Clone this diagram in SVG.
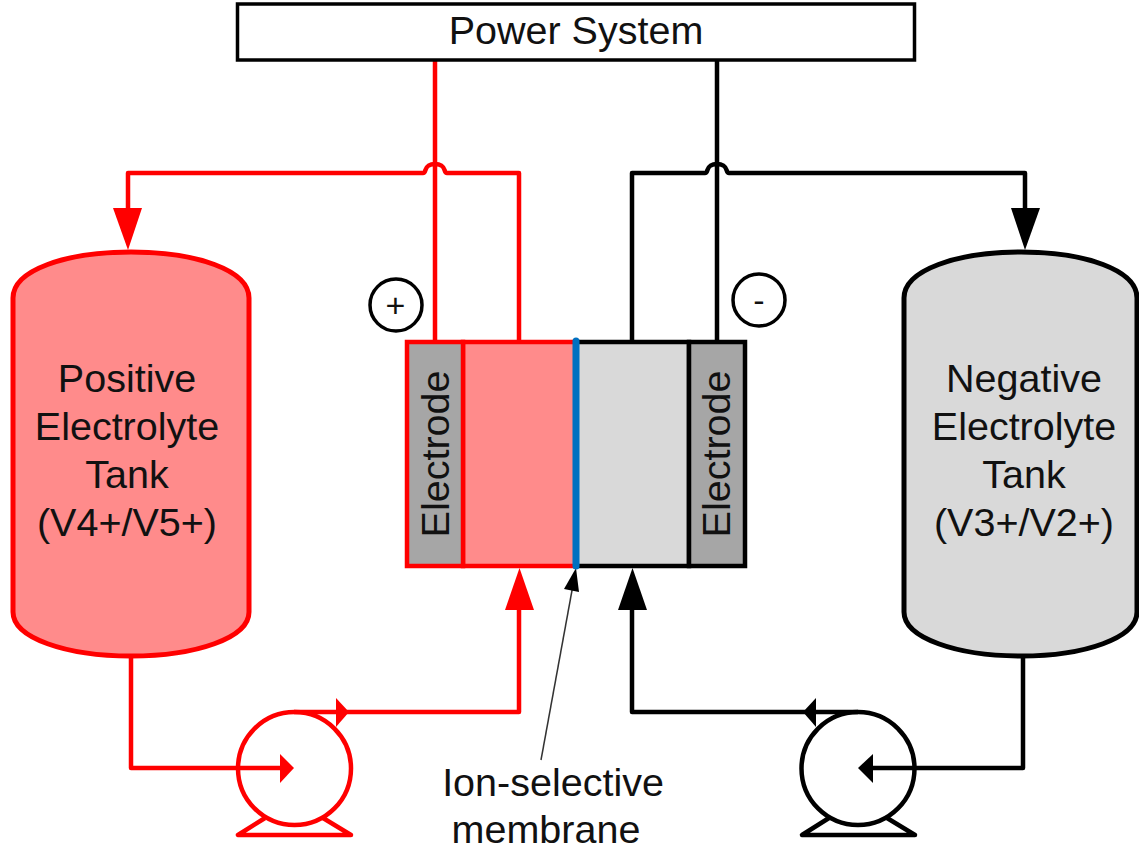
<svg xmlns="http://www.w3.org/2000/svg" width="1139" height="849" viewBox="0 0 1139 849">
<style>
text{font-family:"Liberation Sans",Arial,sans-serif;font-size:39.500px;fill:#111;text-anchor:middle}
.r{fill:none;stroke:#ff0000;stroke-width:4.500;stroke-linejoin:round}
.k{fill:none;stroke:#000;stroke-width:4.500;stroke-linejoin:round}
.rh{fill:#ff0000;stroke:none}
.kh{fill:#000;stroke:none}
</style>
<rect width="1139" height="849" fill="#fff"/>
<g id="connectors">
<path class="r" d="M435 60V342"/>
<path class="k" d="M717 60V342"/>
<path class="r" d="M519 342V173H447C443 173 447 164 435 164C423 164 427 173 423 173H128V212"/>
<path class="k" d="M632 342V173H705C709 173 705 164 717 164C729 164 725 173 729 173H1025V212"/>
<path class="r" d="M131 652V768H282"/>
<path class="r" d="M294 712H519V606"/>
<path class="k" d="M1023 652V768H870"/>
<path class="k" d="M858 712H632V606"/>
<path class="rh" d="M113 208H142L128 250Z"/>
<path class="kh" d="M1011 208H1040L1025 250Z"/>
<path class="rh" d="M505 610H534L519.500 568Z"/>
<path class="kh" d="M618 610H647L632.500 568Z"/>
<path class="rh" d="M280 754L294 768L280 783Z"/>
<path class="rh" d="M336 698L349 712L336 727Z"/>
<path class="kh" d="M873 754L858 768L873 783Z"/>
<path class="kh" d="M816 698L803 712L816 727Z"/>
<path d="M541 760L573 585" fill="none" stroke="#333" stroke-width="1.500"/>
<path class="kh" d="M576 568L564 589L579 592Z"/>
</g>
<g id="power-system">
<rect x="237.500" y="4" width="677" height="56" fill="#fff" stroke="#000" stroke-width="3.500"/>
<text x="576" y="44">Power System</text>
</g>
<g id="positive-tank">
<path d="M13 298C13 270 66 252 131 252C196 252 249 270 249 298V612C249 638 196 656 131 656C66 656 13 638 13 612Z" fill="#ff8b8b" stroke="#ff0000" stroke-width="5"/>
<text x="127" y="392">Positive</text>
<text x="127" y="440">Electrolyte</text>
<text x="127" y="488">Tank</text>
<text x="127" y="536">(V4+/V5+)</text>
</g>
<g id="negative-tank">
<path d="M904 298C904 270 957 252 1021 252C1085 252 1137 270 1137 298V612C1137 638 1085 656 1021 656C957 656 904 638 904 612Z" fill="#d9d9d9" stroke="#000" stroke-width="5"/>
<text x="1024" y="392">Negative</text>
<text x="1024" y="440">Electrolyte</text>
<text x="1024" y="488">Tank</text>
<text x="1024" y="536">(V3+/V2+)</text>
</g>
<g id="cell-positive">
<rect x="463" y="342" width="113" height="224" fill="#ff8b8b" stroke="#ff0000" stroke-width="4.500"/>
</g>
<g id="cell-negative">
<rect x="576" y="342" width="113" height="224" fill="#d9d9d9" stroke="#000" stroke-width="4.500"/>
</g>
<g id="electrode-positive">
<rect x="407" y="342" width="56" height="224" fill="#a6a6a6" stroke="#ff0000" stroke-width="4.500"/>
<text transform="translate(449 454) rotate(-90)">Electrode</text>
</g>
<g id="electrode-negative">
<rect x="689" y="342" width="56" height="224" fill="#a6a6a6" stroke="#000" stroke-width="4.500"/>
<text transform="translate(730 454) rotate(-90)">Electrode</text>
</g>
<g id="membrane">
<path d="M576 341V566" fill="none" stroke="#0070c0" stroke-width="7" stroke-linecap="round"/>
<text x="553" y="796">Ion-selective</text>
<text x="546" y="842.500">membrane</text>
</g>
<g id="plus-terminal">
<circle cx="396" cy="305" r="26" fill="#fff" stroke="#000" stroke-width="3.500"/>
<text x="395.500" y="317" style="font-size:34px">+</text>
</g>
<g id="minus-terminal">
<circle cx="759" cy="300" r="26" fill="#fff" stroke="#000" stroke-width="3.500"/>
<text x="759" y="312" style="font-size:34px">-</text>
</g>
<g id="pump-positive">
<circle cx="294.500" cy="768.500" r="56.500" class="r"/>
<path class="r" d="M265 818L238 835H351L323 818"/>
</g>
<g id="pump-negative">
<circle cx="858" cy="768.500" r="56.500" class="k"/>
<path class="k" d="M829 818L802 835H915L887 818"/>
</g>
</svg>
